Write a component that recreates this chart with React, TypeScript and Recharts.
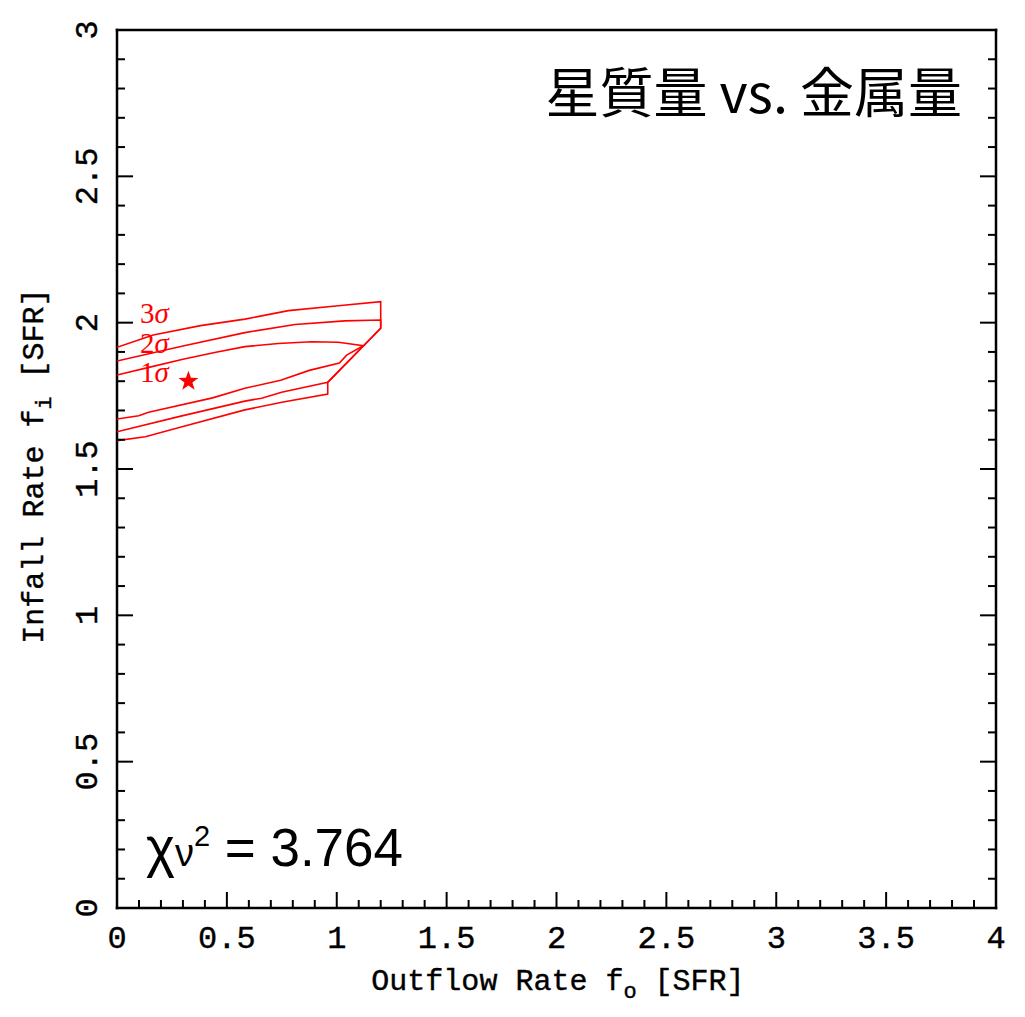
import React from 'react';
import { ComposedChart, Scatter, XAxis, YAxis, ReferenceDot } from 'recharts';

// confidence contours in (outflow, infall) space, each traced as one open path
const contour3: [number, number][] = [
  [0, 1.916], [0.165, 1.958], [0.38, 1.99], [0.582, 2.012], [0.78, 2.041], [1.007, 2.058], [1.2, 2.072],
  [1.2, 1.981], [0.959, 1.796], [0.959, 1.756],
  [0.75, 1.728], [0.582, 1.702], [0.3, 1.645], [0.129, 1.61], [0, 1.597],
];
const contour2: [number, number][] = [
  [0, 1.869], [0.3, 1.92], [0.582, 1.966], [0.81, 1.994], [1.037, 2.006], [1.2, 2.009],
  [1.2, 1.981], [0.959, 1.796],
  [0.749, 1.762], [0.658, 1.742], [0.582, 1.732], [0.281, 1.679], [0, 1.627],
];
const contour1: [number, number][] = [
  [0, 1.821], [0.15, 1.848], [0.3, 1.875], [0.45, 1.899], [0.582, 1.918], [0.734, 1.929], [0.886, 1.935],
  [1.007, 1.933], [1.121, 1.921],
  [1.045, 1.889], [1.012, 1.862], [0.875, 1.837], [0.745, 1.803], [0.582, 1.776], [0.435, 1.743],
  [0.144, 1.694], [0.099, 1.682], [0, 1.671],
];
const bestFit: [number, number][] = [[0.325, 1.8]];

const sigmaLabels = [
  { text: '3', x: 0.105, y: 2.0 },
  { text: '2', x: 0.105, y: 1.897 },
  { text: '1', x: 0.105, y: 1.797 },
];

const titleText = '星質量 vs. 金属量';
const chiSquared = '3.764';

const xMax = 4;
const yMax = 3;
const xTickValues = Array.from({ length: xMax * 10 + 1 }, (_, i) => +(i / 10).toFixed(1));
const yTickValues = Array.from({ length: yMax * 10 + 1 }, (_, i) => +(i / 10).toFixed(1));

const toPoints = (pts: [number, number][]) => pts.map(([x, y]) => ({ x, y }));

const RED = '#ff0000';
const MONO = "'Liberation Mono', 'DejaVu Sans Mono', monospace";

const isMajor = (v: number) => Math.abs(v * 2 - Math.round(v * 2)) < 1e-6;
const fmt = (v: number) => String(+v.toFixed(1));

const BottomTick = ({ x, y, payload }: any) => {
  const major = isMajor(payload.value);
  return (
    <g>
      <line x1={x} y1={y} x2={x} y2={y - (major ? 16 : 8)} stroke="#000" strokeWidth={2} />
      {major && (
        <text x={x} y={y + 40} textAnchor="middle" fontFamily={MONO} fontSize={32} fill="#000" stroke="#000" strokeWidth={0.4}>
          {fmt(payload.value)}
        </text>
      )}
    </g>
  );
};

const TopTick = ({ x, y, payload }: any) => {
  const major = isMajor(payload.value);
  return <line x1={x} y1={y} x2={x} y2={y + (major ? 16 : 8)} stroke="#000" strokeWidth={2} />;
};

const LeftTick = ({ x, y, payload }: any) => {
  const major = isMajor(payload.value);
  const tx = x - 20;
  return (
    <g>
      <line x1={x} y1={y} x2={x + (major ? 16 : 8)} y2={y} stroke="#000" strokeWidth={2} />
      {major && (
        <text
          x={tx}
          y={y}
          transform={`rotate(-90, ${tx}, ${y})`}
          textAnchor="middle"
          fontFamily={MONO}
          fontSize={32}
          fill="#000"
          stroke="#000"
          strokeWidth={0.4}
        >
          {fmt(payload.value)}
        </text>
      )}
    </g>
  );
};

const RightTick = ({ x, y, payload }: any) => {
  const major = isMajor(payload.value);
  return <line x1={x} y1={y} x2={x - (major ? 16 : 8)} y2={y} stroke="#000" strokeWidth={2} />;
};

const Star = ({ cx, cy }: any) => {
  const outer = 10.5;
  const inner = 4.2;
  const pts: string[] = [];
  for (let i = 0; i < 10; i++) {
    const r = i % 2 === 0 ? outer : inner;
    const a = -Math.PI / 2 + (i * Math.PI) / 5;
    pts.push(`${cx + r * Math.cos(a)},${cy + r * Math.sin(a)}`);
  }
  return <polygon points={pts.join(' ')} fill={RED} />;
};

const NoMarker = () => <g />;

const axisLine = { stroke: '#000', strokeWidth: 2.5, strokeLinecap: 'square' as const };

export default function App() {
  return (
    <div style={{ position: 'absolute', left: 0, top: 0, background: '#fff' }}>
      <ComposedChart width={1025} height={1017} margin={{ top: 10, right: 9, bottom: 49, left: 57 }}>
        <XAxis
          dataKey="x"
          type="number"
          domain={[0, xMax]}
          ticks={xTickValues}
          interval={0}
          tickSize={0}
          tickMargin={0}
          tick={<BottomTick />}
          axisLine={axisLine}
          height={60}
          allowDataOverflow
        />
        <XAxis
          xAxisId="top"
          orientation="top"
          type="number"
          domain={[0, xMax]}
          ticks={xTickValues}
          interval={0}
          tickSize={0}
          tickMargin={0}
          tick={<TopTick />}
          axisLine={axisLine}
          height={20}
          allowDataOverflow
        />
        <YAxis
          dataKey="y"
          type="number"
          domain={[0, yMax]}
          ticks={yTickValues}
          interval={0}
          tickSize={0}
          tickMargin={0}
          tick={<LeftTick />}
          axisLine={axisLine}
          width={60}
          allowDataOverflow
        />
        <YAxis
          yAxisId="right"
          orientation="right"
          type="number"
          domain={[0, yMax]}
          ticks={yTickValues}
          interval={0}
          tickSize={0}
          tickMargin={0}
          tick={<RightTick />}
          axisLine={axisLine}
          width={20}
          allowDataOverflow
        />

        {[contour3, contour2, contour1].map((c, i) => (
          <Scatter
            key={i}
            data={toPoints(c)}
            line={{ stroke: RED, strokeWidth: 1.6, fill: 'none' }}
            shape={<NoMarker />}
            isAnimationActive={false}
          />
        ))}
        <Scatter data={toPoints(bestFit)} shape={<Star />} isAnimationActive={false} />

        {sigmaLabels.map((s) => (
          <ReferenceDot
            key={s.text}
            x={s.x}
            y={s.y}
            r={0}
            shape={(p: any) => (
              <text x={p.cx} y={p.cy} fill={RED} fontSize={29} fontFamily="'Liberation Serif', serif">
                {s.text}
                <tspan fontStyle="italic">σ</tspan>
              </text>
            )}
          />
        ))}

        <text x={962} y={113} textAnchor="end" fontFamily="'Noto Sans CJK JP', sans-serif" fontSize={54} fill="#000">
          {titleText}
        </text>

        <text x={146} y={866} fontFamily="'Liberation Sans', Arial, sans-serif" fill="#000">
          <tspan fontSize={55}>χ</tspan>
          <tspan fontSize={38}>ν</tspan>
          <tspan fontSize={29} dy={-20}>2</tspan>
          <tspan fontSize={53} dy={20}>{` = ${chiSquared}`}</tspan>
        </text>

        <text x={558} y={990} textAnchor="middle" fontFamily={MONO} fontSize={30} fill="#000" stroke="#000" strokeWidth={0.4}>
          Outflow Rate f<tspan fontSize={22} dy={8}>o</tspan>
          <tspan dy={-8}> [SFR]</tspan>
        </text>

        <text
          x={0}
          y={0}
          transform="translate(43, 466) rotate(-90)"
          textAnchor="middle"
          fontFamily={MONO}
          fontSize={30}
          fill="#000"
          stroke="#000"
          strokeWidth={0.4}
        >
          Infall Rate f<tspan fontSize={22} dy={8}>i</tspan>
          <tspan dy={-8}> [SFR]</tspan>
        </text>
      </ComposedChart>
    </div>
  );
}
